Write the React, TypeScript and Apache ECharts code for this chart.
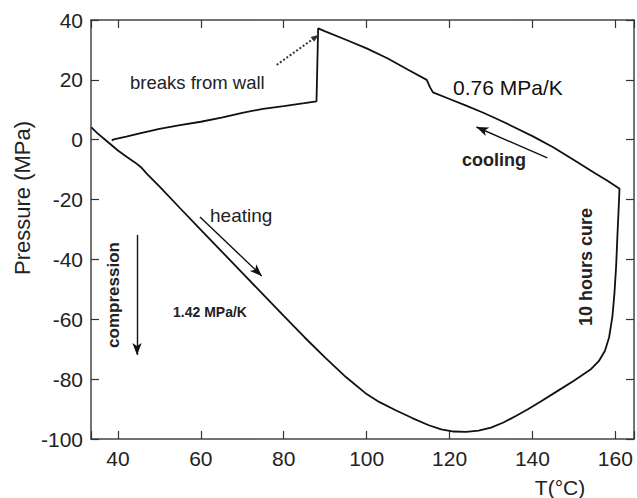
import React, { useEffect, useRef } from "react";
import * as echarts from "echarts";

// Temperature (°C) / pressure (MPa) path, in measurement order
const heatingT = [33.6, 35, 37, 40, 42, 44, 45.5, 47, 50, 55, 60, 65, 70, 75, 80, 85, 90, 95, 100, 103, 107, 111, 115, 118, 121, 124, 127, 130, 133, 136, 139, 142, 146, 150, 154, 156, 157.5, 158.5, 159.3, 159.8, 160.2, 160.5, 160.8, 161];
const heatingP = [4.1, 2.2, -0.1, -3.6, -5.6, -7.5, -9.1, -11.4, -15.6, -22.9, -30.1, -37.3, -44.5, -51.7, -58.9, -66, -72.8, -79.3, -85, -87.6, -90.4, -93, -95.4, -96.8, -97.5, -97.6, -97.2, -96.2, -94.5, -92.3, -90, -87.5, -84, -80.5, -76.8, -74, -70.5, -66, -59, -51, -42, -32, -23, -16.4];
const coolingT = [160.2, 158, 155, 150, 145, 140, 135, 132, 128, 124, 120, 116, 115.3, 114.5, 110, 105, 100, 95, 90, 88.3, 87.9, 85, 80, 75, 70, 65, 60, 55, 50, 45, 42, 39, 38.5];
const coolingP = [-15.6, -13.6, -11.1, -6.8, -2.5, 1.2, 4.6, 6.6, 9.1, 11.4, 13.6, 15.8, 17.5, 20, 23.4, 27.2, 30.5, 33.4, 36.2, 37.2, 12.8, 12.2, 11.2, 10.3, 9, 7.4, 6, 4.9, 3.6, 2, 1, 0.1, -0.2];

const xTicks = [40, 60, 80, 100, 120, 140, 160];
const yTicks = [-100, -80, -60, -40, -20, 0, 20, 40];

// Annotation arrows: [fromT, fromP, toT, toP]
const heatingArrow = [59.8, -25.8, 74.7, -45.5];
const coolingArrow = [143.6, -6.1, 126.5, 4.25];
const compressionArrow = [44.6, -31.8, 44.6, -71.9];
const wallArrow = [78.3, 25, 87.7, 34.3];

const FONT = "'Liberation Sans', Arial, Helvetica, sans-serif";

export default function App() {
  const ref = useRef<HTMLDivElement>(null);
  useEffect(() => {
    if (!ref.current) return;
    const chart = echarts.init(ref.current, null, { renderer: "svg" });
    const path: number[][] = [];
    heatingT.forEach((t, i) => path.push([t, heatingP[i]]));
    coolingT.forEach((t, i) => path.push([t, coolingP[i]]));

    const arrow = (a: number[], extra: any = {}) => [
      { coord: [a[0], a[1]], symbol: "none", ...extra },
      { coord: [a[2], a[3]] },
    ];

    const axisCommon = {
      axisLine: { show: true, onZero: false, lineStyle: { color: "#444", width: 1.5 } },
      axisTick: { show: true, inside: true, length: 8, lineStyle: { color: "#333", width: 1.2 } },
      splitLine: { show: false },
    };
    const xBase = {
      type: "value",
      min: 33.5,
      max: 164.5,
      splitNumber: 6,
      minInterval: 20,
      maxInterval: 20,
      ...axisCommon,
    };
    const yBase = {
      type: "value",
      min: yTicks[0],
      max: yTicks[yTicks.length - 1],
      interval: 20,
      ...axisCommon,
    };

    chart.setOption({
      animation: false,
      grid: { left: 91, right: 2, top: 20, bottom: 59 },
      xAxis: [
        {
          ...xBase,
          position: "bottom",
          axisLabel: {
            fontSize: 21,
            color: "#222",
            fontFamily: FONT,
            margin: 9,
            formatter: (v: number) => (xTicks.includes(v) ? String(v) : ""),
          },
        },
        { ...xBase, position: "top", axisLabel: { show: false } },
      ],
      yAxis: [
        {
          ...yBase,
          position: "left",
          axisLabel: { fontSize: 21, color: "#222", fontFamily: FONT, margin: 8 },
        },
        { ...yBase, position: "right", axisLabel: { show: false } },
      ],
      series: [
        {
          type: "line",
          data: path,
          showSymbol: false,
          symbol: "none",
          smooth: false,
          lineStyle: { color: "#111", width: 1.8 },
          markLine: {
            silent: true,
            symbol: ["none", "arrow"],
            symbolSize: [7, 12],
            label: { show: false },
            lineStyle: { color: "#111", width: 1.4, type: "solid" },
            data: [
              arrow(heatingArrow),
              arrow(coolingArrow),
              arrow(compressionArrow),
              [
                { coord: [wallArrow[0], wallArrow[1]], symbol: "none", lineStyle: { type: "dotted", width: 2, color: "#333" } },
                { coord: [wallArrow[2], wallArrow[3]], symbol: "triangle", symbolSize: [6, 8] },
              ],
            ],
          },
        },
      ],
      graphic: [
        { type: "text", x: 22, y: 198, rotation: Math.PI / 2, style: { text: "Pressure (MPa)", fontSize: 22, fontFamily: FONT, fill: "#222", textAlign: "center", textVerticalAlign: "middle" } },
        { type: "text", x: 560, y: 487, style: { text: "T(°C)", fontSize: 21, fontFamily: FONT, fill: "#222", textAlign: "center", textVerticalAlign: "middle" } },
        { type: "text", x: 130, y: 82, style: { text: "breaks from wall", fontSize: 18.5, fontFamily: FONT, fill: "#222", textAlign: "left", textVerticalAlign: "middle" } },
        { type: "text", x: 453, y: 87, style: { text: "0.76 MPa/K", fontSize: 21, fontFamily: FONT, fill: "#111", textAlign: "left", textVerticalAlign: "middle" } },
        { type: "text", x: 462, y: 160, style: { text: "cooling", fontSize: 18, fontWeight: "bold", fontFamily: FONT, fill: "#222", textAlign: "left", textVerticalAlign: "middle" } },
        { type: "text", x: 210, y: 215, style: { text: "heating", fontSize: 19, fontFamily: FONT, fill: "#222", textAlign: "left", textVerticalAlign: "middle" } },
        { type: "text", x: 173, y: 312, style: { text: "1.42 MPa/K", fontSize: 14, fontWeight: "bold", fontFamily: FONT, fill: "#222", textAlign: "left", textVerticalAlign: "middle" } },
        { type: "text", x: 113, y: 295, rotation: Math.PI / 2, style: { text: "compression", fontSize: 17, fontWeight: "bold", fontFamily: FONT, fill: "#222", textAlign: "center", textVerticalAlign: "middle" } },
        { type: "text", x: 586, y: 267, rotation: Math.PI / 2, style: { text: "10 hours cure", fontSize: 18, fontWeight: "bold", fontFamily: FONT, fill: "#222", textAlign: "center", textVerticalAlign: "middle" } },
      ],
    });
    return () => chart.dispose();
  }, []);
  return (
    <div
      ref={ref}
      style={{ position: "fixed", left: 0, top: 0, width: 637, height: 498, background: "#fff" }}
    />
  );
}
